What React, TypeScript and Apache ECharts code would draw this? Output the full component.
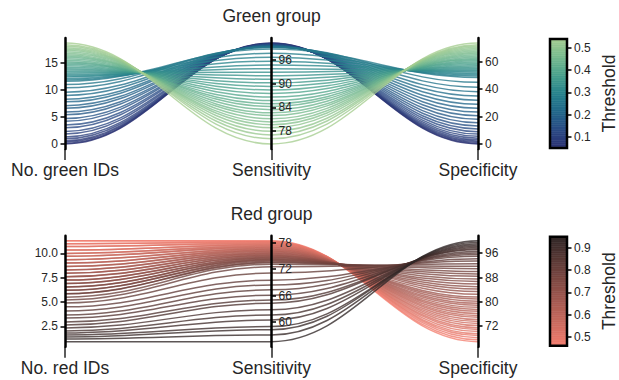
import React, { useEffect, useRef } from 'react';
import * as echarts from 'echarts';

// ---------- data ----------
const greenThreshold = [0.05, 0.06, 0.07, 0.08, 0.09, 0.10, 0.11, 0.12, 0.13, 0.14, 0.15, 0.16, 0.17, 0.18, 0.19, 0.20, 0.21, 0.22, 0.23, 0.24, 0.25, 0.26, 0.27, 0.28, 0.29, 0.30, 0.31, 0.32, 0.33, 0.34, 0.35, 0.36, 0.37, 0.38, 0.39, 0.40, 0.41, 0.42, 0.43, 0.44, 0.45, 0.46, 0.47, 0.48, 0.49, 0.50, 0.51, 0.52, 0.53, 0.54];
const greenIDs = [0, 0.15, 0.35, 0.6, 0.95, 1.3, 1.85, 2.3, 3.0, 3.5, 4.2, 4.7, 5.4, 5.9, 6.6, 7.1, 7.8, 8.3, 9.0, 9.6, 10.4, 11.0, 11.6, 11.85, 12.1, 12.4, 12.65, 12.9, 13.15, 13.45, 13.7, 13.95, 14.2, 14.5, 14.75, 15.0, 15.25, 15.5, 15.8, 16.05, 16.3, 16.55, 16.8, 17.1, 17.35, 17.6, 17.85, 18.1, 18.4, 18.7];
const greenSensitivity = [100.3, 100.25, 100.2, 100.15, 100.1, 100.05, 100.0, 99.95, 99.9, 99.85, 99.8, 99.75, 99.7, 99.65, 99.6, 99.55, 99.5, 99.45, 99.4, 99.35, 99.3, 99.2, 98.8, 97.7, 96.7, 95.7, 94.7, 93.8, 92.9, 92.0, 91.1, 90.2, 89.3, 88.4, 87.5, 86.6, 85.7, 84.9, 84.2, 83.4, 82.6, 81.9, 81.1, 80.3, 79.6, 78.8, 77.9, 77.0, 76.0, 74.7];
const greenSpecificity = [0, 0.5, 1.2, 2.0, 3.0, 4.2, 5.6, 7.2, 9.0, 11.0, 13.2, 15.5, 18.0, 20.6, 23.3, 26.1, 29.0, 32.0, 35.0, 38.2, 41.5, 45.0, 48.6, 49.6, 50.6, 51.6, 52.6, 53.5, 54.4, 55.3, 56.2, 57.1, 58.0, 58.9, 59.8, 60.7, 61.6, 62.5, 63.4, 64.3, 65.2, 66.1, 67.0, 67.9, 68.8, 69.7, 70.6, 71.5, 72.5, 73.7];

const redThreshold = [0.46, 0.47, 0.48, 0.49, 0.50, 0.51, 0.52, 0.53, 0.54, 0.55, 0.56, 0.57, 0.58, 0.59, 0.60, 0.61, 0.62, 0.63, 0.64, 0.65, 0.66, 0.67, 0.68, 0.69, 0.70, 0.71, 0.72, 0.73, 0.74, 0.75, 0.76, 0.77, 0.78, 0.79, 0.80, 0.81, 0.82, 0.83, 0.84, 0.85, 0.86, 0.87, 0.88, 0.89, 0.90, 0.91, 0.92, 0.93, 0.94, 0.95];
const redIDs = [11.3, 11.3, 11.0, 11.0, 10.7, 10.7, 10.35, 10.35, 10.0, 10.0, 9.7, 9.7, 9.35, 9.35, 9.0, 9.0, 8.65, 8.65, 8.3, 8.3, 7.95, 7.95, 7.6, 7.6, 7.25, 7.25, 6.9, 6.9, 6.55, 6.55, 6.2, 6.2, 5.85, 5.85, 5.5, 5.2, 4.9, 4.5, 4.07, 3.66, 3.35, 2.94, 2.63, 2.33, 2.02, 1.81, 1.61, 1.4, 1.2, 0.92];
const redSensitivity = [78.4, 78.3, 78.2, 78.05, 77.9, 77.75, 77.6, 77.45, 77.3, 77.15, 77.0, 76.85, 76.7, 76.55, 76.4, 76.25, 76.1, 75.95, 75.8, 75.65, 75.5, 75.35, 75.2, 75.05, 74.9, 74.75, 74.6, 74.45, 74.3, 74.15, 74.0, 73.8, 73.6, 73.4, 73.1, 72.5, 71.1, 69.5, 68.4, 67.3, 66.1, 65.0, 64.3, 62.8, 61.6, 60.5, 59.0, 58.3, 57.1, 55.6];
const redSpecificity = [66.9, 67.5, 68.2, 68.9, 69.5, 70.2, 70.9, 71.5, 72.2, 72.9, 73.5, 74.2, 74.9, 75.5, 76.2, 76.9, 77.5, 78.2, 78.9, 79.5, 80.2, 80.9, 81.6, 82.5, 83.4, 84.2, 85.0, 85.9, 86.7, 87.5, 88.4, 89.2, 90.0, 90.9, 91.7, 92.5, 93.4, 94.2, 95.0, 95.6, 96.1, 96.6, 97.1, 97.5, 97.9, 98.3, 98.7, 99.1, 99.6, 100.1];

const greenAxisNames = ['No. green IDs', 'Sensitivity', 'Specificity'];
const redAxisNames = ['No. red IDs', 'Sensitivity', 'Specificity'];
const greenTicks = [[0, 5, 10, 15], [78, 84, 90, 96], [0, 20, 40, 60]];
const redTicks = [[2.5, 5, 7.5, 10], [60, 66, 72, 78], [72, 80, 88, 96]];
const greenBarTicks = [0.1, 0.2, 0.3, 0.4, 0.5];
const redBarTicks = [0.5, 0.6, 0.7, 0.8, 0.9];
const titles = ['Green group', 'Red group'];

// ---------- styling ----------
const FONT = '"Liberation Sans", Arial, Helvetica, sans-serif';
const TXT = '#262626';
const crestColors = ['#2c3172', '#2a4a84', '#22678a', '#26828c', '#48a08c', '#76ba8e', '#a5cd90'];
const redColors = ['#f47d6e', '#302626'];

const PANEL_TOP = [38, 235.7];
const PANEL_H = 111;
const GRID_LEFT = 65;
const GRID_RIGHT = 141;
const BAR_LEFT = 550;
const BAR_W = 19;

function range(arr: number[]) {
  const mn = Math.min(...arr);
  const mx = Math.max(...arr);
  const pad = (mx - mn) * 0.05;
  return { min: mn - pad, max: mx + pad };
}

export default function App() {
  const ref = useRef<HTMLDivElement>(null);
  useEffect(() => {
    document.body.style.margin = '0';
    const chart = echarts.init(ref.current!, null, { renderer: 'svg' });
    const W = 619 - GRID_LEFT - GRID_RIGHT;

    const panels = [
      { cols: [greenIDs, greenSensitivity, greenSpecificity], thr: greenThreshold, names: greenAxisNames, ticks: greenTicks, barTicks: greenBarTicks, colors: crestColors },
      { cols: [redIDs, redSensitivity, redSpecificity], thr: redThreshold, names: redAxisNames, ticks: redTicks, barTicks: redBarTicks, colors: redColors },
    ];

    const grid: any[] = [];
    const xAxis: any[] = [];
    const yAxis: any[] = [];
    const series: any[] = [];
    const visualMap: any[] = [];
    const graphic: any[] = [];

    panels.forEach((p, pi) => {
      grid.push({ left: GRID_LEFT, right: GRID_RIGHT, top: PANEL_TOP[pi], height: PANEL_H });
      xAxis.push({
        gridIndex: pi, type: 'value', min: 0, max: 2, position: 'bottom',
        axisLine: { show: false, onZero: false },
        splitLine: { show: false },
        axisTick: { show: true, customValues: [0, 1, 2], length: 11, lineStyle: { color: TXT, width: 1.5 } },
        axisLabel: {
          customValues: [0, 1, 2], margin: 12, fontSize: 17.5, color: TXT, fontFamily: FONT,
          formatter: (v: number) => p.names[Math.round(v)],
        },
      });
      p.cols.forEach((col, k) => {
        const r = range(col);
        yAxis.push({
          gridIndex: pi, type: 'value', min: r.min, max: r.max,
          position: k === 0 ? 'left' : 'right',
          offset: k === 1 ? -W / 2 : 0,
          axisLine: { show: true, onZero: false, lineStyle: { color: '#000', width: 2.5 } },
          axisTick: { show: true, customValues: p.ticks[k], length: 4.5, lineStyle: { color: '#000', width: 1.5 } },
          axisLabel: {
            customValues: p.ticks[k], margin: 7, fontSize: 12, color: TXT, fontFamily: FONT,
            formatter: (v: number) => (pi === 1 && k === 0 ? v.toFixed(1) : String(v)),
          },
          splitLine: { show: false },
          z: 5,
        });
      });
      graphic.push({
        type: 'text', x: GRID_LEFT + W / 2, y: PANEL_TOP[pi] - 31,
        style: { text: titles[pi], fontSize: 17.5, fontFamily: FONT, fill: TXT, align: 'center', verticalAlign: 'top' },
      });
    });

    // colorbar grids
    panels.forEach((p, pi) => {
      const gi = 2 + pi;
      const tMin = Math.min(...p.thr);
      const tMax = Math.max(...p.thr);
      grid.push({ left: BAR_LEFT, width: BAR_W, top: PANEL_TOP[pi] + 1, height: PANEL_H - 2, show: true, borderColor: '#000', borderWidth: 2.5, backgroundColor: 'transparent', z: 5 });
      xAxis.push({ gridIndex: gi, type: 'value', min: 0, max: 1, show: false });
      yAxis.push({
        gridIndex: gi, type: 'value', min: tMin, max: tMax, position: 'right',
        axisLine: { show: false, onZero: false },
        axisTick: { show: true, customValues: p.barTicks, length: 4.5, lineStyle: { color: '#000', width: 1.5 } },
        axisLabel: { customValues: p.barTicks, margin: 7, fontSize: 12, color: TXT, fontFamily: FONT, formatter: (v: number) => v.toFixed(1) },
        splitLine: { show: false },
        name: 'Threshold', nameLocation: 'middle', nameRotate: 90, nameGap: 33,
        nameTextStyle: { fontSize: 17.5, color: TXT, fontFamily: FONT },
      });
    });

    // line series
    panels.forEach((p, pi) => {
      const yIdx = [pi * 3, pi * 3 + 1, pi * 3 + 2];
      series.push({
        type: 'custom',
        xAxisIndex: pi, yAxisIndex: pi * 3,
        dimensions: ['a', 'b', 'c', 'thr'],
        encode: { x: 3, y: 0 },
        data: p.thr.map((t, i) => [p.cols[0][i], p.cols[1][i], p.cols[2][i], t]),
        renderItem: (params: any, api: any) => {
          const vals = [api.value(0), api.value(1), api.value(2)];
          const xs = [0, 1, 2].map((k) => chart.convertToPixel({ xAxisIndex: pi } as any, k) as any as number);
          const ys = vals.map((v, k) => chart.convertToPixel({ yAxisIndex: yIdx[k] } as any, v) as any as number);
          const color = api.visual('color');
          const children: any[] = [];
          for (let s = 0; s < 2; s++) {
            const dx = xs[s + 1] - xs[s];
            children.push({
              type: 'bezierCurve',
              shape: {
                x1: xs[s], y1: ys[s], x2: xs[s + 1], y2: ys[s + 1],
                cpx1: xs[s] + dx * 0.4, cpy1: ys[s], cpx2: xs[s + 1] - dx * 0.4, cpy2: ys[s + 1],
              },
              style: { stroke: color, fill: null, lineWidth: 1.5, opacity: 0.78 },
            });
          }
          return { type: 'group', children };
        },
      });
    });

    // colorbar series
    panels.forEach((p, pi) => {
      const thr = p.thr;
      series.push({
        type: 'custom',
        xAxisIndex: 2 + pi, yAxisIndex: 6 + pi,
        dimensions: ['x', 'y', 'z', 'thr'],
        encode: { x: 0, y: 1 },
        data: thr.map((t) => [0, t, 0, t]),
        renderItem: (params: any, api: any) => {
          const i = params.dataIndex;
          const t = thr[i];
          const lo = i === 0 ? t : (t + thr[i - 1]) / 2;
          const hi = i === thr.length - 1 ? t : (t + thr[i + 1]) / 2;
          const p0 = api.coord([0, lo]);
          const p1 = api.coord([1, hi]);
          const color = api.visual('color');
          return {
            type: 'rect',
            shape: { x: p0[0], y: p1[1], width: p1[0] - p0[0], height: p0[1] - p1[1] },
            style: { fill: color, stroke: color, lineWidth: 0.6 },
          };
        },
      });
    });

    visualMap.push({
      type: 'continuous', show: false, seriesIndex: [0, 2], dimension: 3,
      min: Math.min(...greenThreshold), max: Math.max(...greenThreshold),
      inRange: { color: crestColors },
    });
    visualMap.push({
      type: 'continuous', show: false, seriesIndex: [1, 3], dimension: 3,
      min: Math.min(...redThreshold), max: Math.max(...redThreshold),
      inRange: { color: redColors },
    });

    chart.setOption({
      animation: false,
      backgroundColor: '#ffffff',
      textStyle: { fontFamily: FONT },
      grid, xAxis, yAxis, series, visualMap, graphic,
    });
    return () => chart.dispose();
  }, []);
  return <div ref={ref} style={{ width: 619, height: 380 }} />;
}
